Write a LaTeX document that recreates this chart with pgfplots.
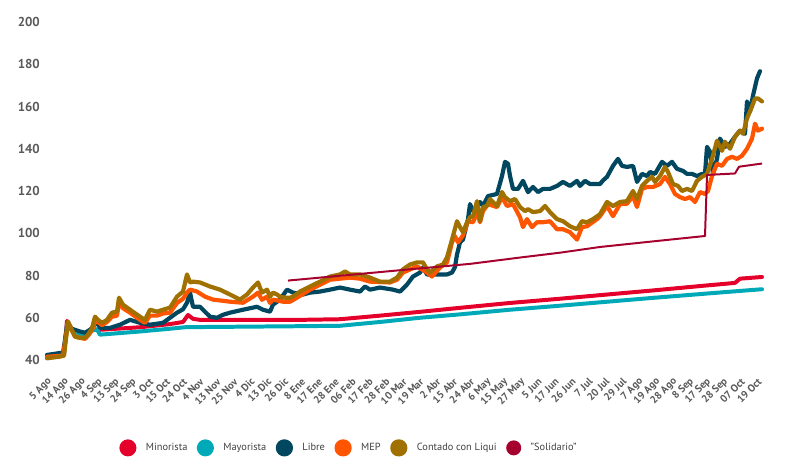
\documentclass[border=0pt]{standalone}
\usepackage{pgfplots}
\pgfplotsset{compat=1.18}
\usepackage{fontspec}
\setmainfont{PT Sans}
\definecolor{cMin}{HTML}{E4002B}
\definecolor{cMay}{HTML}{00A9B7}
\definecolor{cLib}{HTML}{00475F}
\definecolor{cMEP}{HTML}{FF5500}
\definecolor{cCCL}{HTML}{A07000}
\definecolor{cSol}{HTML}{A6002F}
\definecolor{ctick}{HTML}{595959}
\definecolor{cleg}{HTML}{404040}
\begin{document}
\begin{tikzpicture}
\useasboundingbox (0,0) rectangle (785bp,471bp);
\begin{axis}[
  at={(47bp,111bp)}, anchor=south west,
  scale only axis, width=715bp, height=338bp,
  xmin=0, xmax=715, ymin=40, ymax=200,
  clip=false,
  axis line style={draw=none},
  major tick length=0pt,
  ytick={40,60,...,200},
  xtick={0,16.9,33.8,50.7,67.6,84.5,101.4,118.3,135.2,152.1,169,185.9,202.8,219.7,236.6,253.5,270.4,287.3,304.2,321.1,338,354.9,371.8,388.7,405.6,422.5,439.4,456.3,473.2,490.1,507,523.9,540.8,557.7,574.6,591.5,608.4,625.3,642.2,659.1,676,692.9,709.8},
  xticklabels={5 Ago,14 Ago,26 Ago,4 Sep,13 Sep,24 Sep,3 Oct,15 Oct,24 Oct,4 Nov,13 Nov,25 Nov,4 Dic,13 Dic,26 Dic,8 Ene,17 Ene,28 Ene,06 Feb,17 Feb,28 Feb,10 Mar,19 Mar,2 Abr,15 Abr,24 Abr,6 May,15 May,27 May,5 Jun,17 Jun,26 Jun,7 Jul,20 Jul,29 Jul,7 Ago,19 Ago,28 Ago,8 Sep,17 Sep,28 Sep,07 Oct,19 Oct},
  /pgf/number format/assume math mode=true,
  yticklabel style={font=\fontsize{13}{13}\selectfont\bfseries, text=ctick, anchor=east, inner sep=0pt, xshift=-7bp},
  xticklabel style={font=\fontsize{10.5}{11}\selectfont\bfseries, text=ctick, xshift=3bp, yshift=-20bp, rotate=45, anchor=east, inner sep=0pt},
  every axis plot/.append style={line join=round, line cap=round},
  legend columns=6,
  legend style={at={(0.421,-0.26)}, anchor=center, draw=none, fill=none,
    font=\fontsize{10.4}{12}\selectfont, text=cleg,
    nodes={inner sep=0pt},
    /tikz/every even column/.append style={column sep=9.5bp},
    /tikz/every odd column/.append style={column sep=9.5bp}},
  legend image code/.code={\fill[#1] (0bp,0bp) circle (6.5bp);},
]
% Minorista
\addplot[color=cMin, line width=4pt] coordinates {
(0,41.5)(15,42)(17,43)(20,58.5)(28,52)(38,51.5)(45,54.5)(53,54.3)(93,55.5)(123,57)(136,58)(141,61.3)(146,59.5)(153,59)(200,59)(253,59)(293,59.3)(333,61)(373,62.8)(413,64.7)(463,67)(513,69)(553,70.7)(603,72.8)(653,75)(688,76.5)(693,78.5)(715,79.3)};
% Mayorista
\addplot[color=cMay, line width=4pt] coordinates {
(0,41.5)(15,42)(17,43)(20,57)(28,52)(38,51.5)(45,54)(50,54.5)(53,52)(93,53.5)(123,54.8)(140,55.6)(153,55.6)(253,56)(293,56.2)(333,58)(373,60)(413,61.6)(463,63.8)(513,65.7)(553,67.3)(603,69.3)(653,71.2)(693,72.7)(715,73.5)};
% Libre
\addplot[color=cLib, line width=4.2pt] coordinates {
(0,42.4)(13,43.3)(16,43.3)(20,55.7)(23,55)(28,54.3)(33,53.5)(38,52.9)(43,54.3)(48,56.7)(50,58.5)(53,55.2)(63,55.2)(73,56.7)(83,59)(93,57.6)(103,56.7)(116,57.6)(123,60)(130,62.4)(136,64)(140,67.1)(143,71.9)(146,65.2)(153,65.2)(163,60.5)(170,60)(176,61.4)(183,62.4)(196,63.8)(210,65.2)(216,63.8)(223,62.9)(226,66.2)(233,68.6)(240,73.3)(246,71.9)(256,71)(263,71.9)(273,72.4)(283,73.3)(293,74.3)(303,73.3)(313,72.4)(318,74.8)(323,73.3)(333,74.3)(346,73.3)(353,72.4)(360,75.7)(366,79.5)(373,81.4)(376,83.8)(380,80.5)(390,80.5)(400,80.5)(405,81.4)(408,84)(410,90)(413,95.7)(416,97)(421,106.7)(423,113.8)(426,110.5)(430,112.9)(433,114.8)(436,112.9)(441,117.6)(450,118.6)(455,127.1)(458,133.8)(461,132.9)(463,127.1)(466,121)(471,121)(476,124.8)(481,119.5)(486,121.9)(491,119.5)(496,121)(503,121)(510,122.4)(516,124.3)(523,122.4)(530,124.8)(533,122.4)(538,124.8)(543,123.3)(553,123.3)(556,125)(560,126.7)(566,131.9)(571,135.2)(575,131.9)(580,131.4)(586,131.9)(590,124.3)(595,128.1)(600,127.1)(603,129)(608,128.1)(615,133.8)(620,131.9)(625,133.8)(630,130.5)(636,129.5)(640,128.1)(645,128.1)(650,127.1)(655,128.1)(658,128.1)(660,140.9)(663,138.6)(666,128.1)(670,135.2)(673,144.8)(678,140.9)(683,142.4)(688,145.7)(693,148.6)(698,147.1)(700,162.4)(703,157.6)(706,165.2)(710,173.3)(713,176.7)};
% MEP
\addplot[color=cMEP, line width=4.2pt] coordinates {
(0,41.5)(13,42)(16,42)(21,57.5)(28,51.1)(33,50.5)(38,50)(41,51.5)(45,54)(48,58)(51,58)(55,56.5)(60,58)(65,60.5)(70,61)(72,67)(76,64.5)(83,62.4)(93,59)(98,57.6)(103,61)(110,61)(116,62)(123,62.4)(130,67)(136,69)(140,71.9)(143,73.3)(150,72.4)(158,70)(166,68.6)(183,67.6)(196,67.1)(206,70)(211,71.9)(215,68.5)(220,70)(223,67)(226,68.6)(236,67.6)(243,67.6)(250,69.5)(263,73.3)(283,78)(293,78.5)(303,79)(313,78.5)(323,77.1)(343,76.7)(350,78)(356,81.4)(370,84.3)(380,81.4)(385,79.5)(393,83.8)(400,86.2)(405,95.7)(408,98.6)(411,95.7)(416,99)(421,105.7)(426,105.2)(430,110)(433,105.2)(436,110.5)(441,113.8)(450,112.4)(455,117.1)(460,112.9)(466,113.8)(473,107.6)(476,102.9)(480,106.7)(485,102.9)(490,105.2)(496,105.2)(503,105.7)(510,101.9)(516,101.9)(523,100.5)(530,97)(535,102.9)(540,103.3)(550,106.7)(553,108.1)(560,112.9)(566,108.1)(573,113.8)(580,114)(586,117.6)(590,112.4)(595,121)(600,121.9)(606,121.9)(613,123.3)(618,126.7)(623,123.3)(628,118.6)(633,117.1)(638,116.2)(643,117.1)(648,114.8)(653,119.5)(658,118.6)(661,120)(665,127.1)(670,132.9)(675,131.9)(680,135.2)(685,136.2)(690,135.2)(695,136.7)(700,140)(705,144.8)(708,151.9)(711,148.6)(715,149.5)};
% Contado con Liqui
\addplot[color=cCCL, line width=4.2pt] coordinates {
(0,40.8)(13,41.6)(17,42)(21,58.2)(28,51.1)(33,50.5)(38,50.5)(41,52)(45,55)(48,60.5)(51,59)(55,57.6)(60,59)(65,62.4)(70,62.9)(72,69.5)(76,66.2)(83,63.8)(93,60.5)(98,59)(103,63.8)(110,62.9)(116,63.8)(123,64.8)(130,70)(136,72.4)(140,80.5)(143,76.7)(146,77.1)(153,76.7)(163,74.8)(173,73.3)(183,71)(193,68.6)(200,71)(206,74.3)(211,76.7)(215,71.9)(220,73.3)(223,70)(226,71.9)(230,71)(233,70)(238,69.5)(243,69.5)(246,70)(253,72.4)(263,74.8)(273,77.1)(283,79.5)(293,80.5)(298,81.9)(303,80.5)(313,80.5)(323,79)(333,77.1)(343,77.1)(350,79)(356,82.9)(363,85.2)(370,86.2)(376,86.2)(380,82.9)(383,81.4)(390,84.3)(396,85.2)(400,88.6)(405,97)(410,105.7)(413,102.9)(416,100.5)(420,105.2)(423,107.6)(426,108.1)(430,115.2)(433,105.7)(436,112.4)(440,112.9)(443,116.2)(446,114.8)(450,112.9)(455,119.5)(458,117.1)(463,115.2)(468,116.2)(473,112.4)(478,110.5)(481,111.4)(486,110)(493,110.5)(498,112.9)(503,110)(510,106.7)(516,105.7)(523,103.3)(530,101.9)(535,105.7)(540,105.2)(546,106.7)(553,109)(560,114.8)(566,112.9)(573,114.8)(580,115.2)(586,120)(590,116.2)(595,122.4)(600,124.8)(605,126.7)(608,124.3)(613,127.1)(618,131.4)(621,129)(626,123.3)(631,122.4)(635,120)(640,121)(645,120)(650,124.8)(655,126.7)(660,128.1)(665,135.2)(670,143.8)(675,139)(678,143.3)(683,140)(688,145.7)(693,148.6)(696,147.1)(700,154.3)(705,160)(708,163.8)(711,163.8)(715,162.4)};
% Solidario
\addplot[color=cSol, line width=2pt, line cap=butt] coordinates {
(241,77.6)(353,82.5)(423,85.5)(473,88.5)(513,90.8)(553,93.5)(603,96)(658,98.7)(660,127.6)(688,128.3)(692,131.5)(715,133)};
\legend{Minorista,Mayorista,Libre,MEP,Contado con Liqui,"Solidario"}
\end{axis}
\end{tikzpicture}
\end{document}
